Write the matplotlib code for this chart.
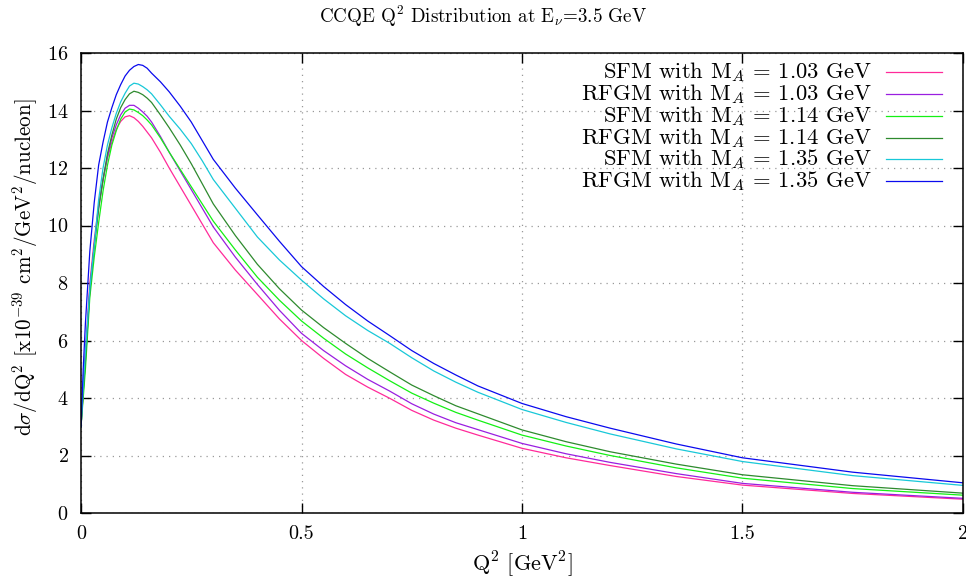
import matplotlib
matplotlib.use("Agg")
import matplotlib.pyplot as plt

# Q^2 grid [GeV^2] and dsigma/dQ^2 [1e-39 cm^2/GeV^2/nucleon]
q2 = [0, 0.005, 0.01, 0.02, 0.03, 0.04, 0.05, 0.06, 0.07, 0.08, 0.09, 0.10, 0.11,
      0.12, 0.13, 0.14, 0.15, 0.16, 0.18, 0.20, 0.225, 0.25, 0.275, 0.30, 0.35, 0.40,
      0.45, 0.50, 0.55, 0.60, 0.65, 0.70, 0.75, 0.80, 0.85, 0.90, 1.00, 1.10, 1.20,
      1.35, 1.50, 1.75, 2.00]

sfm_103 = [3.0, 4.3, 5.6, 8.0, 9.5, 10.7, 11.6, 12.35, 12.9, 13.35, 13.62, 13.78, 13.82,
           13.75, 13.62, 13.45, 13.25, 13.05, 12.55, 12.0, 11.35, 10.7, 10.05, 9.4, 8.45, 7.6,
           6.75, 6.0, 5.38, 4.82, 4.38, 3.99, 3.57, 3.23, 2.95, 2.71, 2.25, 1.92, 1.65,
           1.27, 0.97, 0.68, 0.48]
rfgm_103 = [3.0, 4.2, 5.3, 7.8, 9.3, 10.6, 11.6, 12.4, 13.05, 13.5, 13.85, 14.08, 14.18,
            14.18, 14.08, 13.95, 13.8, 13.6, 13.1, 12.55, 11.9, 11.25, 10.6, 9.95, 8.9, 7.95,
            7.05, 6.25, 5.65, 5.12, 4.65, 4.24, 3.8, 3.44, 3.14, 2.9, 2.42, 2.06, 1.76,
            1.37, 1.03, 0.72, 0.51]
sfm_114 = [3.0, 4.0, 5.0, 7.5, 8.9, 10.1, 11.2, 12.1, 12.8, 13.3, 13.7, 13.95, 14.05,
           14.02, 13.93, 13.82, 13.67, 13.5, 13.05, 12.55, 11.95, 11.35, 10.75, 10.15, 9.15, 8.2,
           7.4, 6.68, 6.08, 5.53, 5.05, 4.6, 4.17, 3.82, 3.5, 3.23, 2.71, 2.33, 2.0,
           1.57, 1.21, 0.85, 0.62]
rfgm_114 = [3.0, 4.2, 5.3, 7.7, 9.3, 10.6, 11.6, 12.5, 13.15, 13.7, 14.1, 14.38, 14.58,
            14.67, 14.63, 14.55, 14.43, 14.28, 13.85, 13.4, 12.8, 12.15, 11.45, 10.75, 9.65, 8.65,
            7.8, 7.06, 6.45, 5.9, 5.38, 4.91, 4.45, 4.08, 3.73, 3.45, 2.89, 2.48, 2.13,
            1.7, 1.33, 0.95, 0.69]
sfm_135 = [3.0, 4.4, 5.6, 7.8, 9.3, 10.9, 12.0, 12.8, 13.4, 13.9, 14.3, 14.6, 14.85,
           14.95, 14.92, 14.83, 14.72, 14.58, 14.2, 13.8, 13.35, 12.85, 12.25, 11.6, 10.6, 9.6,
           8.8, 8.1, 7.45, 6.86, 6.35, 5.9, 5.4, 4.94, 4.55, 4.2, 3.6, 3.15, 2.75,
           2.23, 1.79, 1.3, 0.96]
rfgm_135 = [3.0, 5.0, 6.6, 9.1, 10.8, 12.1, 12.9, 13.6, 14.1, 14.55, 14.9, 15.2, 15.4,
            15.53, 15.6, 15.57, 15.47, 15.3, 15.0, 14.65, 14.15, 13.6, 12.95, 12.3, 11.3, 10.37,
            9.45, 8.57, 7.88, 7.25, 6.68, 6.17, 5.65, 5.2, 4.8, 4.42, 3.81, 3.35, 2.95,
            2.4, 1.92, 1.42, 1.05]

series = [sfm_103, rfgm_103, sfm_114, rfgm_114, sfm_135, rfgm_135]
labels = ["SFM with M$_A$ = 1.03 GeV", "RFGM with M$_A$ = 1.03 GeV",
          "SFM with M$_A$ = 1.14 GeV", "RFGM with M$_A$ = 1.14 GeV",
          "SFM with M$_A$ = 1.35 GeV", "RFGM with M$_A$ = 1.35 GeV"]
colors = ["#ff2a9a", "#9a1ee0", "#14f014", "#2e8a2e", "#18c8d8", "#0a0aee"]

plt.rcParams['font.family'] = ['cmr10', 'DejaVu Serif']
plt.rcParams['mathtext.fontset'] = 'cm'
plt.rcParams['axes.formatter.use_mathtext'] = True

fig = plt.figure(figsize=(9.66, 5.82), dpi=100)
ax = fig.add_axes([81/966, 69/582, 882/966, 460/582])

for y, c in zip(series, colors):
    ax.plot(q2, y, color=c, lw=0.9)

ax.set_xlim(0, 2)
ax.set_ylim(0, 16)
ax.set_xticks([0, 0.5, 1, 1.5, 2])
ax.set_xticklabels(["0", "0.5", "1", "1.5", "2"])
ax.set_yticks(range(0, 17, 2))
ax.tick_params(direction='in', length=7, width=1, top=True, right=True,
               labelsize=14.5, pad=9)
ax.grid(True, linestyle=(0, (1, 4)), color='#999999', lw=0.9)
for s in ax.spines.values():
    s.set_linewidth(1.1)

ax.set_xlabel("Q$^2$ [GeV$^2$]", fontsize=16, labelpad=4)
ax.set_ylabel("d$\\sigma$/dQ$^2$ [x10$^{-39}$ cm$^2$/GeV$^2$/nucleon]", fontsize=15.2)
ax.yaxis.set_label_coords(-0.046, 0.535)
fig.text(0.5, 1 - 16/582, "CCQE Q$^2$ Distribution at E$_\\nu$=3.5 GeV",
         ha='center', va='center', fontsize=13.7)

# key drawn by hand: right-aligned text with the line sample on its right
for i, (lab, c) in enumerate(zip(labels, colors)):
    yk = 0.958 - i * 0.0473
    ax.text(0.8968, yk, lab, transform=ax.transAxes, ha='right', va='center',
            fontsize=16.3)
    ax.plot([0.9127, 0.9762], [yk, yk], transform=ax.transAxes, color=c, lw=0.9)

fig.savefig("out.png", dpi=100)
